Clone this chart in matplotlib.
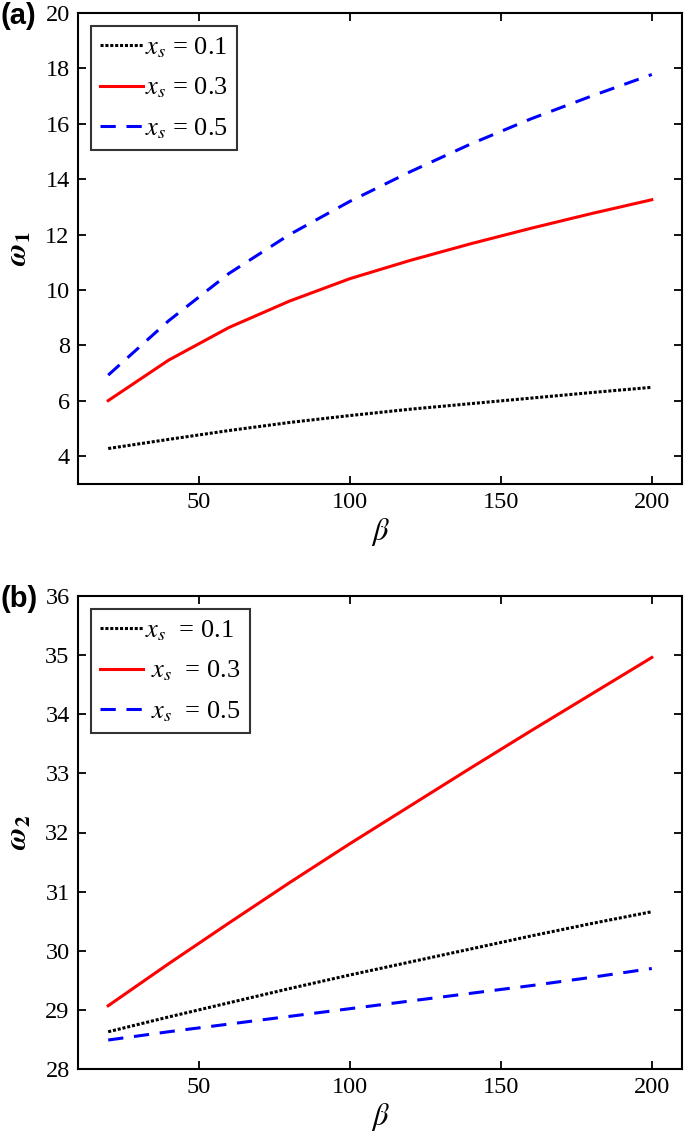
import matplotlib
matplotlib.use("Agg")
import matplotlib.pyplot as plt

plt.rcParams['font.family'] = ['Liberation Serif', 'DejaVu Serif']
plt.rcParams['mathtext.fontset'] = 'stix'

# beta values
beta = [20, 40, 60, 80, 100, 120, 140, 160, 180, 200]

# (a) first natural frequency
w1_01 = [4.28, 4.61, 4.93, 5.22, 5.47, 5.70, 5.90, 6.10, 6.30, 6.49]
w1_03 = [6.01, 7.47, 8.65, 9.60, 10.41, 11.07, 11.67, 12.23, 12.76, 13.26]
w1_05 = [6.93, 8.89, 10.60, 12.00, 13.20, 14.27, 15.27, 16.18, 17.00, 17.78]

# (b) second natural frequency
w2_01 = [28.63, 28.88, 29.12, 29.36, 29.59, 29.81, 30.03, 30.25, 30.46, 30.66]
w2_03 = [29.07, 29.78, 30.47, 31.15, 31.81, 32.45, 33.09, 33.72, 34.34, 34.96]
w2_05 = [28.49, 28.63, 28.76, 28.89, 29.02, 29.15, 29.28, 29.41, 29.55, 29.70]

W, H = 685, 1140
fig = plt.figure(figsize=(W / 100, H / 100), dpi=100)

def panel(bottom_px, top_px, series, labels, ylim, yticks, ylab, tag):
    ax = fig.add_axes([78 / W, 1 - bottom_px / H, (682 - 78) / W, (bottom_px - top_px) / H])
    ax.plot(beta, series[0], color='black', ls=(0, (1, 0.6)), lw=2.2, label=labels[0])
    ax.plot(beta, series[1], color='#ff0000', ls='-', lw=2.2, label=labels[1])
    ax.plot(beta, series[2], color='#0000ff', ls=(0, (5, 3.5)), lw=2.2, label=labels[2])
    ax.set_xlim(10, 210)
    ax.set_ylim(*ylim)
    ax.set_xticks([50, 100, 150, 200])
    ax.set_yticks(yticks)
    ax.tick_params(direction='in', top=True, right=True, length=6, width=1.3,
                   labelsize=17.5, pad=6)
    for s in ax.spines.values():
        s.set_linewidth(1.5)
    ax.set_xlabel(r'$\beta$', fontsize=22, labelpad=2)
    ax.set_ylabel(ylab, fontsize=22, labelpad=8)
    leg = ax.legend(loc='upper left', fontsize=19, frameon=True, fancybox=False,
                    edgecolor='black', handlelength=1.6, handletextpad=0.1,
                    borderpad=0.35, labelspacing=0.6, borderaxespad=0.5)
    leg.get_frame().set_linewidth(1.5)
    fig.text(0.0, 1 - (top_px + 3) / H, tag, fontsize=21, fontweight='bold',
             family='Liberation Sans', va='center', ha='left')
    return ax

panel(484, 13, [w1_01, w1_03, w1_05],
      [r'$x_s$ = 0.1', r'$x_s$ = 0.3', r'$x_s$ = 0.5'],
      (3, 20), range(4, 21, 2), r'$\mathbfit{\omega}_\mathbf{1}$', '(a)')
panel(1069, 596, [w2_01, w2_03, w2_05],
      [r'$x_s$  = 0.1', r' $x_s$  = 0.3', r' $x_s$  = 0.5'],
      (28, 36), range(28, 37), r'$\mathbfit{\omega}_\mathbf{2}$', '(b)')

fig.savefig('out.png', dpi=100)
